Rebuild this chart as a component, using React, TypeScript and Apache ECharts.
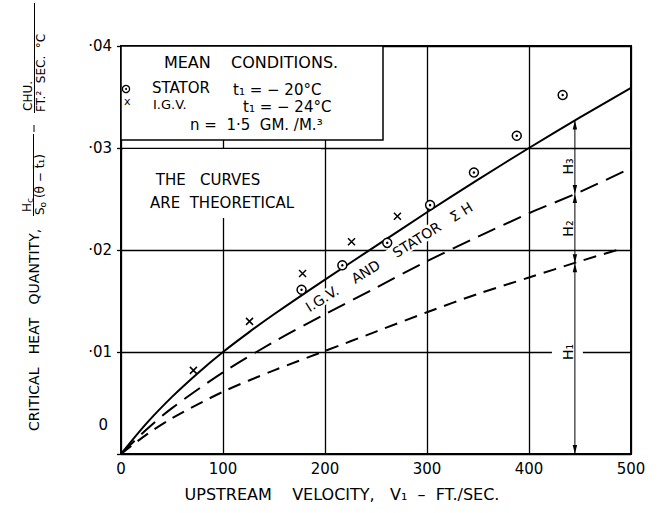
import React, { useEffect, useRef } from 'react';
import * as echarts from 'echarts';

// Velocity grid (ft/sec) for the theoretical curves
const totalVelocity = [0, 25, 50, 75, 100, 125, 150, 200, 250, 300, 350, 400, 450, 500];
// I.G.V. and stator, sum of H
const totalH = [0, 0.003, 0.0056, 0.0079, 0.01, 0.0119, 0.0137, 0.0171, 0.0204, 0.0237, 0.0269, 0.03, 0.033, 0.0359];

const h12Velocity = [0, 25, 50, 100, 150, 200, 250, 300, 350, 400, 450, 495];
const h12 = [0, 0.0024, 0.0045, 0.008, 0.011, 0.0137, 0.0163, 0.0189, 0.0213, 0.0236, 0.0257, 0.0278];

const h1Velocity = [0, 25, 50, 100, 150, 200, 250, 300, 350, 400, 450, 490];
const h1 = [0, 0.0019, 0.0035, 0.0061, 0.0082, 0.0101, 0.012, 0.0139, 0.0157, 0.0173, 0.0189, 0.0201];

// Measured points
const statorVelocity = [177, 217, 261, 303, 346, 388, 433];
const statorHeat = [0.0161, 0.0185, 0.0207, 0.0244, 0.0276, 0.0312, 0.0352];
const igvVelocity = [71, 126, 178, 226, 271];
const igvHeat = [0.0082, 0.013, 0.0177, 0.0208, 0.0233];

// Dimension line showing H1, H2, H3
const hVelocity = 445;
const hLevels = [0, 0.0187, 0.0255, 0.0327];
const hLabelHeat = [0.01, 0.0221, 0.0282];
const hNames = ['H₁', 'H₂', 'H₃'];

const xTicks = [0, 100, 200, 300, 400, 500];
const yTickLabels = ['0', '·01', '·02', '·03', '·04'];

const FONT = '"DejaVu Sans", "Liberation Sans", sans-serif';
const zip = (a: number[], b: number[]) => a.map((v, i) => [v, b[i]]);

const txt = (text: string, x: number, y: number, size: number, align = 'left', extra: any = {}) => ({
  type: 'text',
  x,
  y,
  z: 5,
  ...extra,
  style: {
    text,
    fill: '#000',
    font: `${size}px ${FONT}`,
    align,
    verticalAlign: 'middle',
    textAlign: align,
    textVerticalAlign: 'middle',
    ...(extra.style || {}),
  },
});

export default function App() {
  const ref = useRef<HTMLDivElement>(null);

  useEffect(() => {
    if (!ref.current) return;
    const chart = echarts.init(ref.current, null, { renderer: 'svg' });
    const rot = Math.PI / 2;
    const sub = { s: { fontSize: 9, fontFamily: FONT, fill: '#000', padding: [5, 0, 0, 0] } };

    const option: any = {
      animation: false,
      backgroundColor: '#fff',
      grid: { left: 121, right: 33, top: 46, bottom: 59, show: true, borderColor: '#000', borderWidth: 2 },
      xAxis: {
        type: 'value',
        min: xTicks[0],
        max: xTicks[xTicks.length - 1],
        interval: xTicks[1] - xTicks[0],
        name: 'UPSTREAM    VELOCITY,   V₁  –  FT./SEC.',
        nameLocation: 'middle',
        nameGap: 32,
        nameTextStyle: { color: '#000', fontSize: 16, fontFamily: FONT, padding: [0, 68, 0, 0] },
        axisLine: { show: true, lineStyle: { color: '#000', width: 2 } },
        axisTick: { show: false },
        splitLine: { show: true, lineStyle: { color: '#000', width: 1.3 } },
        axisLabel: { color: '#000', fontSize: 15, fontFamily: FONT, margin: 7 },
      },
      yAxis: {
        type: 'value',
        min: 0,
        max: 0.04,
        interval: 0.01,
        axisLine: { show: true, lineStyle: { color: '#000', width: 2 } },
        axisTick: { show: true, length: 4, lineStyle: { color: '#000', width: 1.3 } },
        splitLine: { show: true, lineStyle: { color: '#000', width: 1.3 } },
        axisLabel: {
          color: '#000',
          fontSize: 15,
          fontFamily: FONT,
          margin: 9,
          formatter: (v: number) => {
            const i = Math.round(v * 100);
            return i === 0 ? '{z|' + yTickLabels[0] + '}' : yTickLabels[i];
          },
          rich: { z: { fontSize: 15, fontFamily: FONT, color: '#000', padding: [0, 4, 58, 0] } },
        },
      },
      graphic: [
        // legend panel
        { type: 'rect', z: 1, shape: { x: 121, y: 46, width: 262, height: 94 }, style: { fill: '#fff', stroke: '#000', lineWidth: 1.5 } },
        // note panel background
        { type: 'rect', z: 1, shape: { x: 123, y: 149, width: 198, height: 69 }, style: { fill: '#fff' } },
        txt('MEAN    CONDITIONS.', 251, 62, 16, 'center'),
        { type: 'circle', z: 5, shape: { cx: 126, cy: 89, r: 3.6 }, style: { fill: '#fff', stroke: '#000', lineWidth: 1.3 } },
        { type: 'circle', z: 5, shape: { cx: 126, cy: 89, r: 1 }, style: { fill: '#000' } },
        txt('STATOR', 152, 88, 15),
        txt('t₁ = − 20°C', 233, 90, 15),
        txt('x', 124, 101, 11),
        txt('I.G.V.', 153, 104, 13),
        txt('t₁ = − 24°C', 243, 107, 15),
        txt('n =  1·5  GM. /M.³', 190, 125, 15),
        txt('THE   CURVES', 208, 180, 15, 'center'),
        txt('ARE  THEORETICAL', 222, 203, 15, 'center'),
        // curve label along the total curve
        txt('I.G.V.    AND    STATOR   Σ H', 389, 257, 14, 'center', {
          rotation: 0.557,
          z: 1,
          style: { backgroundColor: '#fff', padding: [0, 2] },
        }),
        // y-axis title
        txt('CRITICAL   HEAT   QUANTITY,', 34, 431, 14, 'left', { rotation: rot }),
        txt('H{s|c}', 27, 205, 12, 'center', { rotation: rot, style: { rich: sub } }),
        { type: 'line', z: 5, shape: { x1: 33.5, y1: 216, x2: 33.5, y2: 134 }, style: { stroke: '#000', lineWidth: 1 } },
        txt('S{s|o} (θ − t̄₁)', 40, 215, 12, 'left', { rotation: rot, style: { rich: sub } }),
        { type: 'line', z: 5, shape: { x1: 34, y1: 125, x2: 34, y2: 132 }, style: { stroke: '#000', lineWidth: 1 } },
        txt('CHU.', 28, 96, 12, 'center', { rotation: rot }),
        { type: 'line', z: 5, shape: { x1: 34.5, y1: 113, x2: 34.5, y2: 3 }, style: { stroke: '#000', lineWidth: 1 } },
        txt('FT.²  SEC.  °C', 41, 112, 12, 'left', { rotation: rot }),
      ],
      series: [
        {
          type: 'line',
          data: zip(totalVelocity, totalH),
          symbol: 'none',
          smooth: 0.3,
          lineStyle: { color: '#000', width: 2 },
        },
        {
          type: 'line',
          data: zip(h12Velocity, h12),
          symbol: 'none',
          smooth: 0.3,
          lineStyle: { color: '#000', width: 2, type: [19, 9] },
        },
        {
          type: 'line',
          data: zip(h1Velocity, h1),
          symbol: 'none',
          smooth: 0.3,
          lineStyle: { color: '#000', width: 2, type: [13, 8] },
        },
        {
          type: 'scatter',
          data: zip(statorVelocity, statorHeat),
          symbol: 'circle',
          symbolSize: 9,
          z: 4,
          itemStyle: { color: '#fff', borderColor: '#000', borderWidth: 1.5, opacity: 1 },
        },
        {
          type: 'scatter',
          data: zip(statorVelocity, statorHeat),
          symbol: 'circle',
          symbolSize: 2.5,
          z: 5,
          itemStyle: { color: '#000', opacity: 1 },
        },
        {
          type: 'scatter',
          data: zip(igvVelocity, igvHeat),
          symbol: 'path://M0,0L10,10M10,0L0,10',
          symbolSize: 7,
          z: 4,
          itemStyle: { color: 'transparent', borderColor: '#000', borderWidth: 1.5, opacity: 1 },
        },
        {
          type: 'custom',
          clip: false,
          z: 3,
          data: hNames.map((_, i) => [hVelocity, hLevels[i], hLevels[i + 1], hLabelHeat[i], i]),
          encode: { x: 0, y: [1, 2] },
          renderItem: (_params: any, api: any) => {
            const x = api.value(0);
            const p0 = api.coord([x, api.value(1)]);
            const p1 = api.coord([x, api.value(2)]);
            const pl = api.coord([x, api.value(3)]);
            const idx = api.value(4);
            const ah = 9;
            const aw = 2.2;
            return {
              type: 'group',
              children: [
                { type: 'rect', shape: { x: pl[0] - 23, y: pl[1] - 9, width: 31, height: 18 }, style: { fill: '#fff' } },
                { type: 'line', shape: { x1: p0[0], y1: p0[1], x2: p1[0], y2: p1[1] }, style: { stroke: '#000', lineWidth: 1 } },
                {
                  type: 'polygon',
                  shape: { points: [[p0[0], p0[1]], [p0[0] - aw, p0[1] - ah], [p0[0] + aw, p0[1] - ah]] },
                  style: { fill: '#000' },
                },
                {
                  type: 'polygon',
                  shape: { points: [[p1[0], p1[1]], [p1[0] - aw, p1[1] + ah], [p1[0] + aw, p1[1] + ah]] },
                  style: { fill: '#000' },
                },
                {
                  type: 'text',
                  x: pl[0] - 7,
                  y: pl[1],
                  rotation: Math.PI / 2,
                  style: {
                    text: hNames[idx],
                    fill: '#000',
                    font: `14px ${FONT}`,
                    align: 'center',
                    verticalAlign: 'middle',
                  },
                },
              ],
            };
          },
        },
      ],
    };

    chart.setOption(option);
    return () => chart.dispose();
  }, []);

  return <div ref={ref} style={{ width: 664, height: 513, position: 'absolute', left: 0, top: 0 }} />;
}
